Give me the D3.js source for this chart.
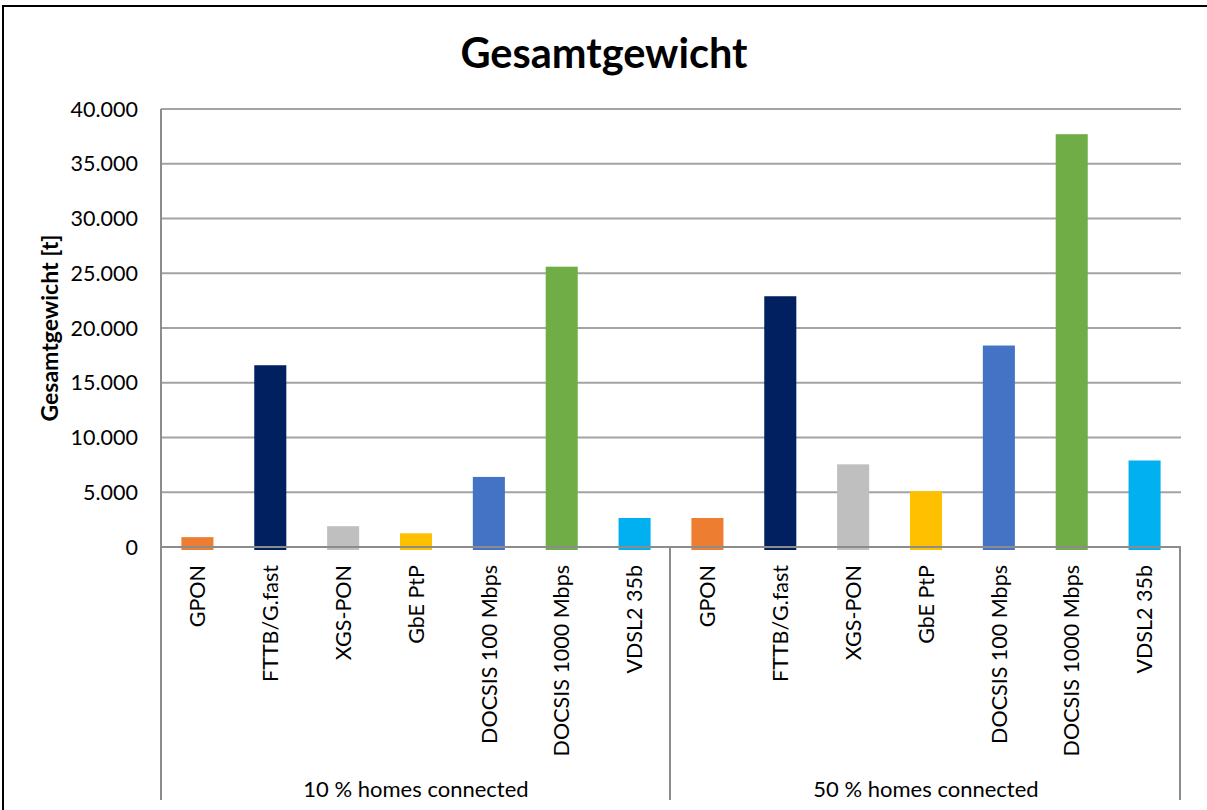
<!DOCTYPE html>
<html>
<head>
<meta charset="utf-8">
<script src="https://cdn.jsdelivr.net/npm/d3@7"></script>
<style>
  body { margin: 0; background: #fff; }
  svg { display: block; font-family: Lato, "Open Sans", sans-serif; }
</style>
</head>
<body>
<div id="chart"></div>
<script>
// data
const groups = ["10 % homes connected", "50 % homes connected"];
const categories = ["GPON", "FTTB/G.fast", "XGS-PON", "GbE PtP", "DOCSIS 100 Mbps", "DOCSIS 1000 Mbps", "VDSL2 35b"];
const values10 = [900, 16600, 1900, 1250, 6400, 25600, 2650];
const values50 = [2650, 22900, 7550, 5100, 18400, 37700, 7900];
const colors = ["#ED7D31", "#002060", "#BFBFBF", "#FFC000", "#4472C4", "#70AD47", "#00B0F0"];
const yTicks = [0, 5000, 10000, 15000, 20000, 25000, 30000, 35000, 40000];

const width = 1207, height = 810;
const plot = {left: 161, right: 1181, top: 109, bottom: 547};

const svg = d3.select("#chart").append("svg")
    .attr("width", width)
    .attr("height", height);

svg.append("rect")
    .attr("width", width).attr("height", height)
    .attr("fill", "#fff");

// outer chart border (runs off right/bottom edge)
svg.append("rect")
    .attr("x", 3).attr("y", 6)
    .attr("width", width + 20).attr("height", height + 20)
    .attr("fill", "none")
    .attr("stroke", "#000")
    .attr("stroke-width", 2);

const x0 = d3.scaleBand()
    .domain(groups)
    .range([plot.left, plot.right])
    .padding(0);

const x1 = d3.scaleBand()
    .domain(categories)
    .range([0, x0.bandwidth()])
    .paddingInner(0.56)
    .paddingOuter(0.28);

const y = d3.scaleLinear()
    .domain([0, 40000])
    .range([plot.bottom, plot.top]);

const de = d3.formatLocale({decimal: ",", thousands: ".", grouping: [3], currency: ["", " €"]});
const fmt = de.format(",.0f");

// gridlines
svg.append("g")
    .selectAll("line")
    .data(yTicks.filter(d => d > 0))
    .join("line")
    .attr("x1", plot.left).attr("x2", plot.right)
    .attr("y1", d => y(d)).attr("y2", d => y(d))
    .attr("stroke", "#a3a3a3")
    .attr("stroke-width", 2);

// y tick labels
svg.append("g")
    .selectAll("text")
    .data(yTicks)
    .join("text")
    .attr("x", plot.left - 23)
    .attr("y", d => y(d))
    .attr("dy", "0.36em")
    .attr("text-anchor", "end")
    .attr("font-size", 21.5)
    .attr("fill", "#000")
    .text(d => fmt(d));

// bars
const series = [values10, values50];
const barG = svg.append("g");
groups.forEach((g, gi) => {
    barG.append("g")
        .attr("transform", `translate(${x0(g)},0)`)
        .selectAll("rect")
        .data(categories.map((c, i) => ({cat: c, value: series[gi][i], color: colors[i]})))
        .join("rect")
        .attr("x", d => x1(d.cat))
        .attr("width", x1.bandwidth())
        .attr("y", d => y(d.value))
        .attr("height", d => y(0) - y(d.value) + 3)
        .attr("fill", d => d.color);
});

// axis lines
svg.append("line")
    .attr("x1", plot.left).attr("x2", plot.right)
    .attr("y1", y(0)).attr("y2", y(0))
    .attr("stroke", "#8c8c8c").attr("stroke-width", 2);

svg.append("line")
    .attr("x1", plot.left).attr("x2", plot.left)
    .attr("y1", plot.top).attr("y2", 800)
    .attr("stroke", "#8c8c8c").attr("stroke-width", 2);

// group divider lines
svg.append("g")
    .selectAll("line")
    .data(groups)
    .join("line")
    .attr("x1", d => x0(d) + x0.bandwidth() - 1)
    .attr("x2", d => x0(d) + x0.bandwidth() - 1)
    .attr("y1", y(0)).attr("y2", 800)
    .attr("stroke", "#8c8c8c").attr("stroke-width", 2);

// category labels, rotated
groups.forEach(g => {
    svg.append("g")
        .selectAll("text")
        .data(categories)
        .join("text")
        .attr("transform", d => `translate(${x0(g) + x1(d) + x1.bandwidth() / 2},${y(0) + 18}) rotate(-90)`)
        .attr("dy", "0.36em")
        .attr("text-anchor", "end")
        .attr("font-size", 21.5)
        .attr("fill", "#000")
        .text(d => d);
});

// group labels
svg.append("g")
    .selectAll("text")
    .data(groups)
    .join("text")
    .attr("x", d => x0(d) + x0.bandwidth() / 2)
    .attr("y", 797)
    .attr("text-anchor", "middle")
    .attr("font-size", 22)
    .attr("fill", "#000")
    .text(d => d);

// y axis title
svg.append("text")
    .attr("transform", `translate(50,${(plot.top + plot.bottom) / 2}) rotate(-90)`)
    .attr("dy", "0.36em")
    .attr("text-anchor", "middle")
    .attr("font-size", 23)
    .attr("font-weight", "bold")
    .text("Gesamtgewicht [t]");

// chart title
svg.append("text")
    .attr("x", 604)
    .attr("y", 68)
    .attr("text-anchor", "middle")
    .attr("font-size", 41.5)
    .attr("font-weight", "bold")
    .text("Gesamtgewicht");
</script>
</body>
</html>
